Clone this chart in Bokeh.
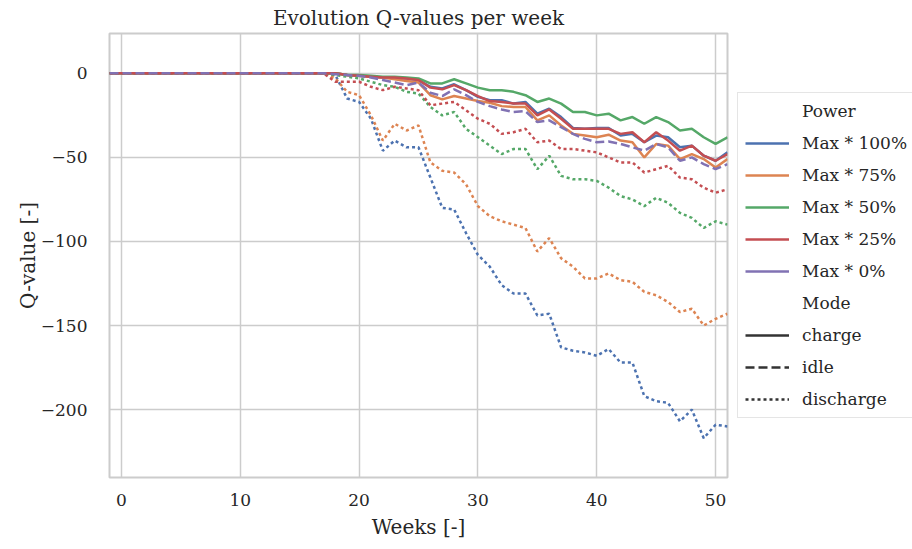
from bokeh.plotting import figure
from bokeh.models import Legend, LegendItem, Range1d, FixedTicker
from bokeh.embed import file_html
from bokeh.resources import INLINE

# Week index (x axis)
weeks = list(range(-1, 52))

# Q-values per power level / mode (weeks -1 .. 51)
q_100_charge = [0, 0, 0, 0, 0, 0, 0, 0, 0, 0, 0, 0, 0, 0, 0, 0, 0, 0, 0,
                0, -1, -1.5, -2, -2.5, -2.5, -3, -4, -8, -9, -6.5, -10, -14, -16, -16, -18, -17,
                -24, -21, -26, -32.5, -33, -32.5, -32.5, -37, -36, -41, -37, -38, -44, -43, -49, -52, -47]
q_100_discharge = [0, 0, 0, 0, 0, 0, 0, 0, 0, 0, 0, 0, 0, 0, 0, 0, 0, 0, 0,
                   -1, -15, -17, -27, -46, -40, -44, -44, -62, -80, -81, -95, -108, -115, -126, -131, -131,
                   -144, -143, -163, -165, -166, -168, -164, -172, -172, -192, -195, -196, -207, -200, -217, -209, -210]
q_75_charge = [0, 0, 0, 0, 0, 0, 0, 0, 0, 0, 0, 0, 0, 0, 0, 0, 0, 0, 0,
               0, -1, -1.5, -2, -2.5, -3.5, -4.5, -5.5, -13, -15.5, -13.5, -15, -16.5, -17.5, -19.5, -20, -20,
               -28, -25, -31, -36, -37, -38, -36.5, -40, -41, -50, -42, -43, -51, -48, -51, -56, -51]
q_75_discharge = [0, 0, 0, 0, 0, 0, 0, 0, 0, 0, 0, 0, 0, 0, 0, 0, 0, 0, 0,
                  -3, -11, -13, -25, -40, -30, -34, -31, -53, -58, -59, -66, -79, -85, -88, -90, -92,
                  -106, -98, -110, -115, -122, -122, -119, -123, -124, -130, -132, -136, -142, -140, -150, -146, -143]
q_50_charge = [0, 0, 0, 0, 0, 0, 0, 0, 0, 0, 0, 0, 0, 0, 0, 0, 0, 0, 0,
               0, -1, -1, -1.5, -2, -2, -2.5, -3, -6, -6, -3.5, -6, -8.5, -10, -10, -11, -13,
               -17, -15, -18, -23, -23, -25, -24, -28, -26, -30, -26, -29, -34, -33, -38, -42, -38]
q_50_discharge = [0, 0, 0, 0, 0, 0, 0, 0, 0, 0, 0, 0, 0, 0, 0, 0, 0, 0, 0,
                  -1, -2, -3, -5, -7, -8, -11, -12, -20, -25, -23, -33, -38, -43, -48, -45, -45,
                  -57, -49, -61, -63, -63, -64, -68, -73, -75, -79, -74, -77, -83, -86, -92, -88, -90]
q_25_charge = [0, 0, 0, 0, 0, 0, 0, 0, 0, 0, 0, 0, 0, 0, 0, 0, 0, 0, 0,
               0, -1, -1.5, -2, -2.5, -2.5, -3, -4, -8.5, -9.5, -7, -10, -13.5, -16.5, -17, -18, -18,
               -25, -21.5, -27, -33, -33, -33, -33, -36, -35, -41, -35, -40, -46, -43, -49, -52, -48]
q_25_discharge = [0, 0, 0, 0, 0, 0, 0, 0, 0, 0, 0, 0, 0, 0, 0, 0, 0, 0, 0,
                  -5, -5, -5, -8, -10, -8, -9, -10, -19, -18, -17, -22, -27, -30, -36, -35, -33,
                  -41, -40, -45, -45, -46, -47, -50, -53, -53, -59, -57, -55, -62, -63, -68, -71, -69]
q_0_idle = [0, 0, 0, 0, 0, 0, 0, 0, 0, 0, 0, 0, 0, 0, 0, 0, 0, 0, 0,
            -0.5, -1, -1.5, -2.5, -4, -5.5, -7, -5.5, -11.5, -13.5, -9.5, -13, -17, -19.5, -21.5, -23, -22.5,
            -29, -28, -32, -36, -39, -41, -40.5, -42, -44, -46, -42, -44, -52, -50, -54, -57, -54]

power_labels = ["Max * 100%", "Max * 75%", "Max * 50%", "Max * 25%", "Max * 0%"]
power_colors = ["#4C72B0", "#DD8452", "#55A868", "#C44E52", "#8172B3"]
mode_labels = ["charge", "idle", "discharge"]
mode_dashes = ["solid", "9 4", "3 3"]

x_ticks = [0, 10, 20, 30, 40, 50]
y_ticks = [-200, -150, -100, -50, 0]

FONT = "DejaVu Serif"
TEXT = "#262626"
GRID = "#cccccc"

p = figure(
    frame_width=618, frame_height=444,
    min_border_left=109, min_border_right=0,
    min_border_top=32, min_border_bottom=73,
    x_range=Range1d(-1, 51), y_range=Range1d(-240.4, 23.7),
    output_backend="svg", toolbar_location=None,
    title="Evolution Q-values per week",
)

p.background_fill_color = "white"
p.border_fill_color = "white"
p.outline_line_color = GRID
p.outline_line_width = 2

p.title.align = "center"
p.title.text_font = FONT
p.title.text_font_size = "20px"
p.title.text_font_style = "normal"
p.title.text_color = TEXT
p.title.offset = 0
p.title.standoff = 7

for ax in (p.xaxis[0], p.yaxis[0]):
    ax.axis_line_color = None
    ax.major_tick_line_color = None
    ax.minor_tick_line_color = None
    ax.major_label_text_font = FONT
    ax.major_label_text_font_size = "17px"
    ax.major_label_text_color = TEXT
    ax.axis_label_text_font = FONT
    ax.axis_label_text_font_size = "20px"
    ax.axis_label_text_font_style = "normal"
    ax.axis_label_text_color = TEXT

p.xaxis.ticker = FixedTicker(ticks=x_ticks)
p.yaxis.ticker = FixedTicker(ticks=y_ticks)
p.xaxis.major_label_overrides = {t: str(t).replace("-", "\u2212") for t in x_ticks}
p.yaxis.major_label_overrides = {t: str(t).replace("-", "\u2212") for t in y_ticks}
p.xaxis.axis_label = "Weeks [-]"
p.yaxis.axis_label = "Q-value [-]"
p.xaxis.major_label_standoff = 10
p.yaxis.major_label_standoff = 16
p.xaxis.axis_label_standoff = 6
p.yaxis.axis_label_standoff = -2

for g in (p.xgrid[0], p.ygrid[0]):
    g.grid_line_color = GRID
    g.grid_line_width = 1.5
p.xgrid.ticker = FixedTicker(ticks=x_ticks)
p.ygrid.ticker = FixedTicker(ticks=y_ticks)

LW = 2.5
series = [
    (q_100_charge, power_colors[0], mode_dashes[0]),
    (q_100_discharge, power_colors[0], mode_dashes[2]),
    (q_75_charge, power_colors[1], mode_dashes[0]),
    (q_75_discharge, power_colors[1], mode_dashes[2]),
    (q_50_charge, power_colors[2], mode_dashes[0]),
    (q_50_discharge, power_colors[2], mode_dashes[2]),
    (q_25_charge, power_colors[3], mode_dashes[0]),
    (q_25_discharge, power_colors[3], mode_dashes[2]),
    (q_0_idle, power_colors[4], mode_dashes[1]),
]
for vals, color, dash in series:
    p.line(weeks, vals, line_color=color, line_width=LW, line_dash=dash)

# Legend-only renderers: a single undefined point, so nothing shows in the frame
NAN = float("nan")

def legend_line(**style):
    return p.line([NAN], [NAN], line_width=LW, **style)

items = [LegendItem(label="Power", renderers=[legend_line(line_alpha=0)])]
for lab, col in zip(power_labels, power_colors):
    items.append(LegendItem(label=lab, renderers=[legend_line(line_color=col)]))
items.append(LegendItem(label="Mode", renderers=[legend_line(line_alpha=0)]))
for lab, dash in zip(mode_labels, mode_dashes):
    items.append(LegendItem(label=lab, renderers=[legend_line(line_color="#333333", line_dash=dash)]))

legend = Legend(
    items=items, location="center_left",
    padding=7, spacing=10, margin=10,
    label_height=22, glyph_height=22, glyph_width=44, label_standoff=13,
    border_line_color=GRID, border_line_width=1.5,
    background_fill_color="white", background_fill_alpha=0.9,
    label_text_font=FONT, label_text_font_size="17px", label_text_color=TEXT,
)
p.add_layout(legend, "right")

open("out.html", "w").write(file_html(p, INLINE))
